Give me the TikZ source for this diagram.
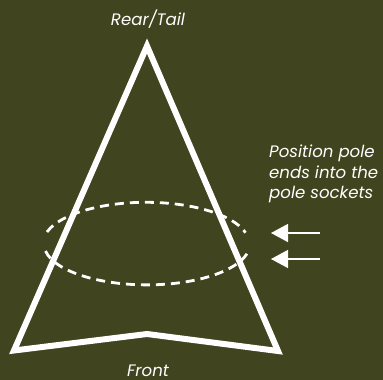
\documentclass[tikz,border=0pt]{standalone}
\usepackage{fontspec}
\setmainfont{Poppins}
\usetikzlibrary{arrows.meta}
\definecolor{bgolive}{HTML}{40441F}
\tikzset{
  lbl/.style={text=white,font=\fontsize{16.6}{20.5}\selectfont\itshape,inner sep=0pt},
  tent/.style={draw=white,line width=6pt,miter limit=20,line join=miter},
  pole/.style={draw=white,line width=2.8pt,dash pattern=on 9pt off 6pt},
  pointer/.style={draw=white,line width=1.4pt,-{Triangle[length=17pt,width=18pt]}}
}
\begin{document}
\begin{tikzpicture}[x=1pt,y=-1pt]
\useasboundingbox[fill=bgolive] (0,0) rectangle (383,380);
\draw[tent] (147,46) -- (278,351) -- (147,334) -- (14,350.5) -- cycle;
\draw[pole] (45.5,251) arc[start angle=170,end angle=10,x radius=103,y radius=41];
\draw[pole] (47,232) arc[start angle=-164,end angle=-15,x radius=103,y radius=41];
\node[lbl,anchor=base] (rear) at (148,25) {Rear/Tail};
\node[lbl,anchor=base] (front) at (148,376) {Front};
\node[lbl,align=left,anchor=north west] (note) at (269,145) {Position pole\\ends into the\\pole sockets};
\coordinate (a1s) at (320,233);
\coordinate (a1e) at (271,233);
\coordinate (a2s) at (320,259);
\coordinate (a2e) at (271,259);
\draw[pointer] (a1s) -- (a1e);
\draw[pointer] (a2s) -- (a2e);
\end{tikzpicture}
\end{document}
